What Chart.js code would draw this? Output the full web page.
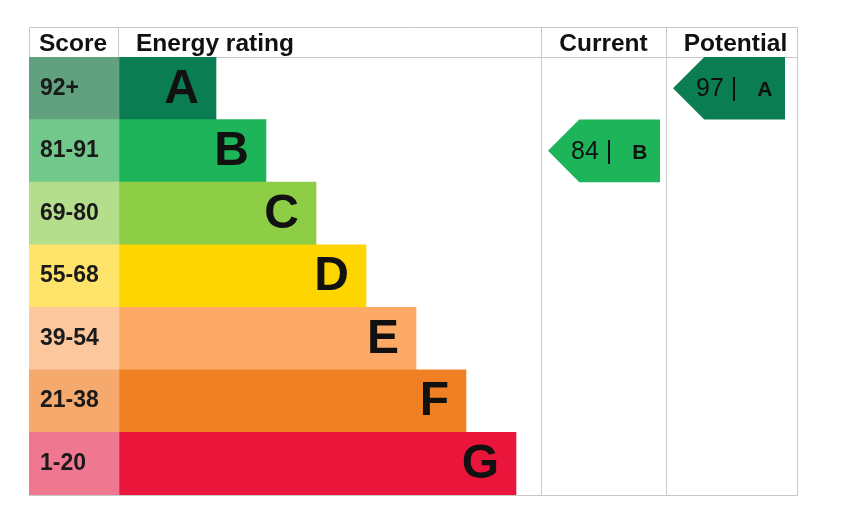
<!DOCTYPE html>
<html>
<head>
<meta charset="utf-8">
<script src="https://cdn.jsdelivr.net/npm/chart.js@4.4.1/dist/chart.umd.min.js"></script>
<style>
  html, body { margin: 0; padding: 0; background: #fff; }
  #wrap { width: 856px; height: 526px; }
</style>
</head>
<body>
<div id="wrap"><canvas id="epc" width="856" height="526"></canvas></div>
<script>
// bandas de eficiência
const bands = ['A', 'B', 'C', 'D', 'E', 'F', 'G'];
const scoreRanges = ['92+', '81-91', '69-80', '55-68', '39-54', '21-38', '1-20'];
const bandMin = [92, 81, 69, 55, 39, 21, 1];
const bandLength = [1.94, 2.94, 3.94, 4.94, 5.94, 6.94, 7.94];
const currentScore = 84;
const potentialScore = 97;

const bandColors = ['#0a7e52', '#1db45a', '#8dce46', '#ffd500', '#fcaa65', '#ef8023', '#e9153b'];
const scoreColors = ['#62a17f', '#73c98b', '#b4de8c', '#ffe46b', '#fdc79e', '#f5a96d', '#f07790'];

const SCORE_W = 1.8;          // largura da coluna Score (unidades do eixo x)
const CURRENT_COL = [8.44, 10.94];
const POTENTIAL_COL = [10.94, 13.56];
const HEADER_H = 30;
const FONT = '"Liberation Sans", Arial, sans-serif';
const LINE = '#c8c8c8';

function bandIndex(score) {
  return bandMin.findIndex(m => score >= m);
}

const epcTable = {
  id: 'epcTable',
  beforeDatasetsDraw(chart) {
    const { ctx, chartArea: ca, scales: { x } } = chart;
    const top = ca.top - HEADER_H;
    ctx.save();
    ctx.strokeStyle = LINE;
    ctx.lineWidth = 1;
    ctx.beginPath();
    // contorno
    ctx.rect(Math.round(ca.left) + 0.5, top + 0.5, Math.round(ca.right - ca.left), Math.round(ca.bottom - top));
    // linha do cabeçalho
    ctx.moveTo(ca.left, ca.top + 0.5);
    ctx.lineTo(ca.right, ca.top + 0.5);
    // divisória Score / Energy rating
    const xs = Math.round(x.getPixelForValue(0)) - 0.5;
    ctx.moveTo(xs, top);
    ctx.lineTo(xs, ca.top);
    // colunas Current / Potential
    [CURRENT_COL[0], POTENTIAL_COL[0]].forEach(v => {
      const px = Math.round(x.getPixelForValue(v)) + 0.5;
      ctx.moveTo(px, top);
      ctx.lineTo(px, ca.bottom);
    });
    ctx.stroke();

    // textos do cabeçalho
    ctx.fillStyle = '#111';
    ctx.font = 'bold 24.5px ' + FONT;
    ctx.textBaseline = 'alphabetic';
    const base = top + 24;
    ctx.textAlign = 'left';
    ctx.fillText('Score', ca.left + 10, base);
    ctx.fillText('Energy rating', x.getPixelForValue(0) + 17, base);
    ctx.textAlign = 'center';
    const cMid = (x.getPixelForValue(CURRENT_COL[0]) + x.getPixelForValue(CURRENT_COL[1])) / 2;
    const pMid = (x.getPixelForValue(POTENTIAL_COL[0]) + x.getPixelForValue(POTENTIAL_COL[1])) / 2;
    ctx.fillText('Current', cMid, base);
    ctx.fillText('Potential', pMid + 4, base);
    ctx.restore();
  },
  afterDatasetsDraw(chart) {
    const { ctx, chartArea: ca, scales: { x, y } } = chart;
    const rowH = (ca.bottom - ca.top) / bands.length;
    ctx.save();
    ctx.textBaseline = 'middle';

    // faixas de pontuação e letras
    bands.forEach((b, i) => {
      const yc = y.getPixelForValue(i);
      ctx.fillStyle = '#1a1a1a';
      ctx.font = 'bold 23px ' + FONT;
      ctx.textAlign = 'left';
      ctx.fillText(scoreRanges[i], x.getPixelForValue(-SCORE_W) + 11, yc);
      ctx.fillStyle = '#111';
      ctx.font = 'bold 48px ' + FONT;
      ctx.textAlign = 'right';
      ctx.fillText(b, x.getPixelForValue(bandLength[i]) - 17, yc + 1);
    });

    // setas Current / Potential
    function arrow(score, col) {
      const i = bandIndex(score);
      const yc = y.getPixelForValue(i);
      const top = yc - rowH / 2, bottom = yc + rowH / 2;
      const tip = x.getPixelForValue(col[0]) + 7;
      const right = tip + 112;
      ctx.fillStyle = bandColors[i];
      ctx.beginPath();
      ctx.moveTo(tip, yc);
      ctx.lineTo(tip + rowH / 2, top);
      ctx.lineTo(right, top);
      ctx.lineTo(right, bottom);
      ctx.lineTo(tip + rowH / 2, bottom);
      ctx.closePath();
      ctx.fill();

      ctx.fillStyle = '#111';
      ctx.textAlign = 'left';
      ctx.font = '25px ' + FONT;
      const t = score + ' |';
      ctx.fillText(t, tip + 23, yc + 1);
      const w = ctx.measureText(t).width;
      ctx.font = 'bold 21px ' + FONT;
      ctx.fillText(bands[i], tip + 23 + w + 20, yc + 2);
    }
    arrow(currentScore, CURRENT_COL);
    arrow(potentialScore, POTENTIAL_COL);
    ctx.restore();
  }
};

document.addEventListener('DOMContentLoaded', () => {
  const ctx = document.getElementById('epc').getContext('2d');
  new Chart(ctx, {
    type: 'bar',
    data: {
      labels: bands,
      datasets: [
        {
          label: 'Score',
          data: bands.map(() => [-SCORE_W, 0]),
          backgroundColor: scoreColors,
          grouped: false,
          borderWidth: 0
        },
        {
          label: 'Energy rating',
          data: bandLength.map(v => [0, v]),
          backgroundColor: bandColors,
          grouped: false,
          borderWidth: 0
        }
      ]
    },
    options: {
      indexAxis: 'y',
      responsive: false,
      animation: false,
      devicePixelRatio: 1,
      layout: { padding: { left: 29, right: 59, top: 57, bottom: 31 } },
      datasets: { bar: { categoryPercentage: 1, barPercentage: 1 } },
      scales: {
        x: { type: 'linear', min: -SCORE_W, max: 13.56, display: false },
        y: { display: false }
      },
      plugins: {
        legend: { display: false },
        tooltip: { enabled: false }
      }
    },
    plugins: [epcTable]
  });
});
</script>
</body>
</html>
